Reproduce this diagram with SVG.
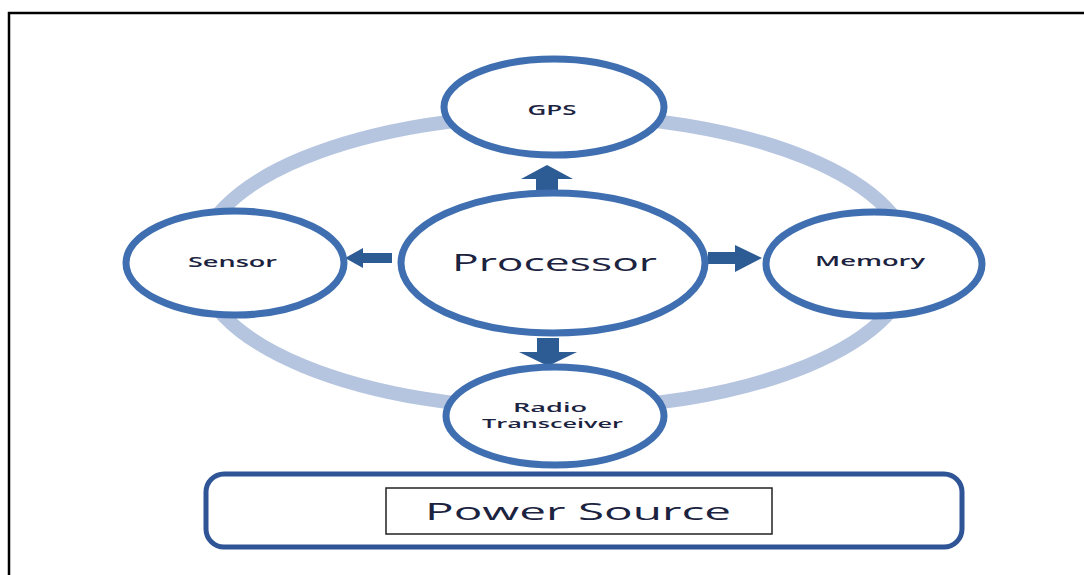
<svg xmlns="http://www.w3.org/2000/svg" width="1084" height="575" viewBox="0 0 1084 575">
  <style>
    .node { fill: #ffffff; stroke: #3f6fb0; stroke-width: 7; }
    .lbl { font-family: "Open Sans", "DejaVu Sans", sans-serif; fill: #1c2340; text-anchor: middle; }
    .sm { font-weight: 600; }
    .arrow { fill: #2d5b94; }
  </style>

  <rect x="0" y="0" width="1084" height="575" fill="#ffffff"/>
  <!-- frame: only top and left edges fall inside the canvas -->
  <rect x="9" y="13" width="1100" height="600" fill="none" stroke="#000000" stroke-width="2.5"/>

  <!-- ring linking the peripheral units -->
  <g id="ring">
    <ellipse cx="555" cy="262" rx="356" ry="147" fill="none" stroke="#b6c5df" stroke-width="14"/>
  </g>

  <g id="connectors">
    <!-- to GPS -->
    <polygon class="arrow" points="536,192 536,179 521,179 547,165 573,179 558,179 558,192"/>
    <!-- to Sensor -->
    <polygon class="arrow" points="392,253 363,253 363,248 345,258 363,268 363,263 392,263"/>
    <!-- to Memory -->
    <polygon class="arrow" points="708,252 735,252 735,245 762,258 735,272 735,264 708,264"/>
    <!-- to Radio Transceiver -->
    <polygon class="arrow" points="537,338 537,352 519,352 548,366 577,352 559,352 559,338"/>
  </g>

  <g id="gps">
    <ellipse class="node" cx="554" cy="107" rx="110" ry="48"/>
    <text class="lbl sm" x="552" y="115" font-size="14" textLength="49" lengthAdjust="spacingAndGlyphs">GPS</text>
  </g>

  <g id="sensor">
    <ellipse class="node" cx="235" cy="263" rx="109" ry="52"/>
    <text class="lbl sm" x="232.5" y="267" font-size="14" textLength="89" lengthAdjust="spacingAndGlyphs">Sensor</text>
  </g>

  <g id="memory">
    <ellipse class="node" cx="874" cy="264" rx="108" ry="52"/>
    <text class="lbl sm" x="870" y="266" font-size="14" textLength="110" lengthAdjust="spacingAndGlyphs">Memory</text>
  </g>

  <g id="processor">
    <ellipse class="node" cx="553" cy="263" rx="152" ry="70"/>
    <text class="lbl" x="554.5" y="271" font-size="24" font-weight="500" textLength="205" lengthAdjust="spacingAndGlyphs">Processor</text>
  </g>

  <g id="radio">
    <ellipse class="node" cx="555" cy="416" rx="109" ry="49"/>
    <text class="lbl sm" x="550" y="412" font-size="12" textLength="74" lengthAdjust="spacingAndGlyphs">Radio</text>
    <text class="lbl sm" x="552.5" y="428" font-size="12" textLength="141" lengthAdjust="spacingAndGlyphs">Transceiver</text>
  </g>

  <g id="power">
    <rect x="206" y="474" width="756" height="73" rx="18" fill="#ffffff" stroke="#2f5597" stroke-width="5"/>
    <rect x="386" y="488" width="386" height="46" fill="#ffffff" stroke="#222222" stroke-width="1.5"/>
    <text class="lbl" x="578" y="520" font-size="24" font-weight="500" textLength="306" lengthAdjust="spacingAndGlyphs">Power Source</text>
  </g>
</svg>
